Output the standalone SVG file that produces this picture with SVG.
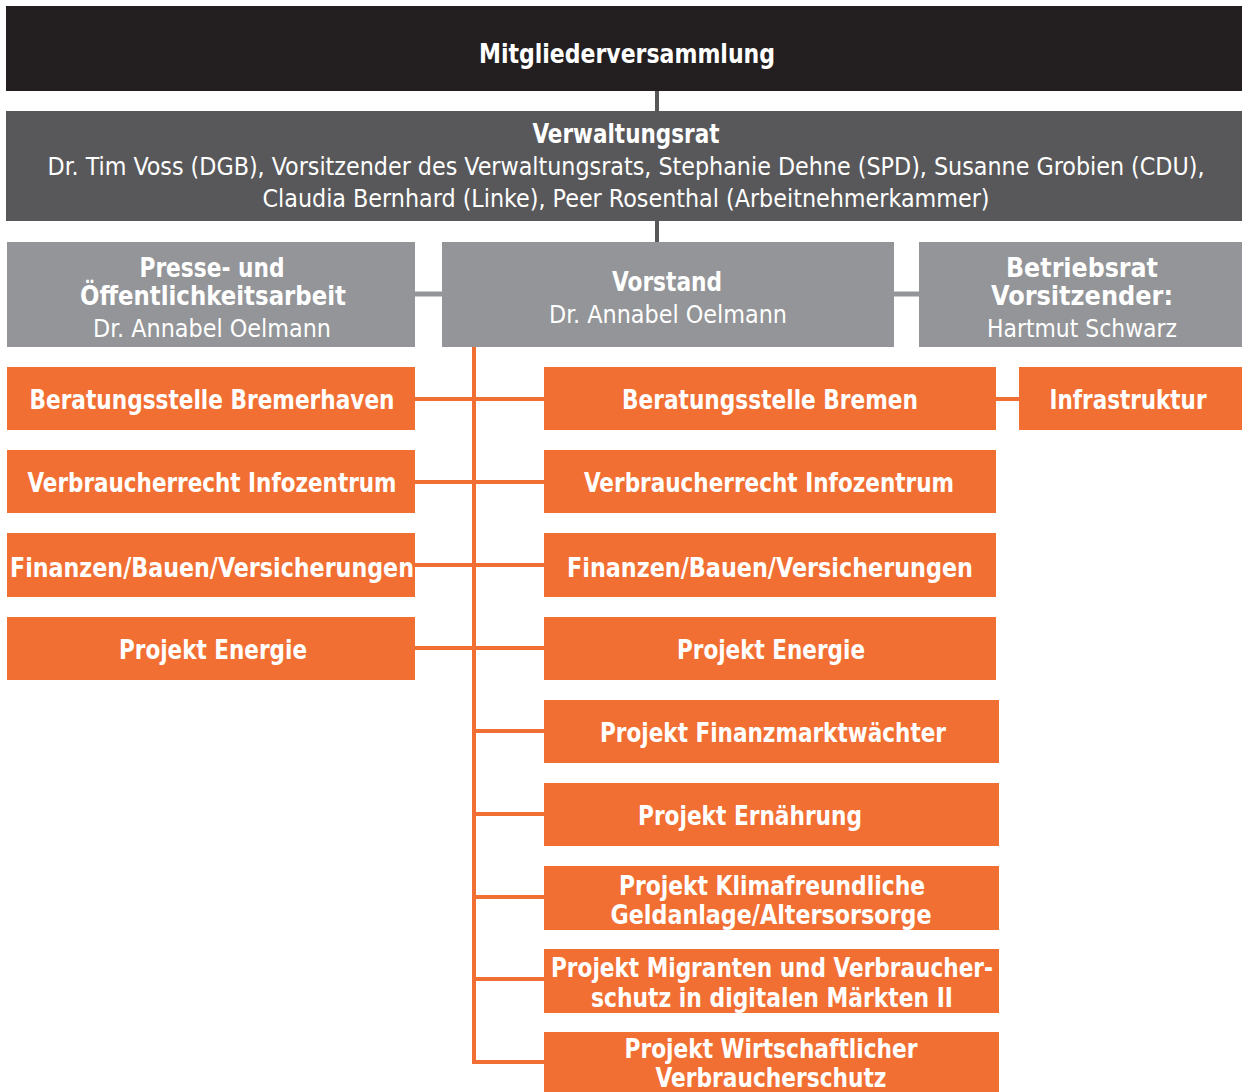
<svg xmlns="http://www.w3.org/2000/svg" width="1242" height="1092" viewBox="0 0 1242 1092">
<style>
text{font-family:"DejaVu Sans Condensed","Liberation Sans",sans-serif;fill:#fff;text-anchor:middle}
.b{font-weight:bold;font-size:26px}
.r{font-size:24px}
.o{fill:#f26f33}
.g{fill:#939598}
.cg{stroke:#939598;stroke-width:5;fill:none}
.cd{stroke:#58585a;stroke-width:4;fill:none}
.co{stroke:#f26f33;stroke-width:4;fill:none}
</style>
<rect width="1242" height="1092" fill="#fff"/>
<g id="connectors">
<line class="cd" x1="657" y1="90" x2="657" y2="112"/>
<line class="cd" x1="657" y1="220" x2="657" y2="243"/>
<line class="cg" x1="414" y1="294" x2="443" y2="294"/>
<line class="cg" x1="893" y1="294" x2="920" y2="294"/>
<polyline class="co" points="474,347 474,1062 545,1062"/>
<line class="co" x1="414" y1="399" x2="545" y2="399"/>
<line class="co" x1="414" y1="482" x2="545" y2="482"/>
<line class="co" x1="414" y1="565" x2="545" y2="565"/>
<line class="co" x1="414" y1="648" x2="545" y2="648"/>
<line class="co" x1="474" y1="731" x2="545" y2="731"/>
<line class="co" x1="474" y1="814" x2="545" y2="814"/>
<line class="co" x1="474" y1="897" x2="545" y2="897"/>
<line class="co" x1="474" y1="979" x2="545" y2="979"/>
<line class="co" x1="995" y1="399" x2="1020" y2="399"/>
</g>
<g id="mitgliederversammlung"><rect x="6" y="6" width="1236" height="85" fill="#231f20"/><text class="b" x="627" y="63" textLength="296" lengthAdjust="spacingAndGlyphs">Mitgliederversammlung</text></g>
<g id="verwaltungsrat"><rect x="6" y="111" width="1236" height="110" fill="#58585a"/>
<text class="b" x="626" y="143" textLength="187" lengthAdjust="spacingAndGlyphs">Verwaltungsrat</text>
<text class="r" x="626" y="175" textLength="1157" lengthAdjust="spacingAndGlyphs">Dr. Tim Voss (DGB), Vorsitzender des Verwaltungsrats, Stephanie Dehne (SPD), Susanne Grobien (CDU),</text>
<text class="r" x="626" y="207" textLength="727" lengthAdjust="spacingAndGlyphs">Claudia Bernhard (Linke), Peer Rosenthal (Arbeitnehmerkammer)</text></g>
<g id="presse"><rect class="g" x="7" y="242" width="408" height="105"/>
<text class="b" x="212" y="277" textLength="145" lengthAdjust="spacingAndGlyphs">Presse- und</text><text class="b" x="213" y="305" textLength="266" lengthAdjust="spacingAndGlyphs">Öffentlichkeitsarbeit</text><text class="r" x="212" y="337" textLength="238" lengthAdjust="spacingAndGlyphs">Dr. Annabel Oelmann</text></g>
<g id="vorstand"><rect class="g" x="442" y="242" width="452" height="105"/>
<text class="b" x="667" y="291" textLength="110" lengthAdjust="spacingAndGlyphs">Vorstand</text><text class="r" x="668" y="323" textLength="238" lengthAdjust="spacingAndGlyphs">Dr. Annabel Oelmann</text></g>
<g id="betriebsrat"><rect class="g" x="919" y="242" width="323" height="105"/>
<text class="b" x="1082" y="277" textLength="152" lengthAdjust="spacingAndGlyphs">Betriebsrat</text><text class="b" x="1082" y="305" textLength="182" lengthAdjust="spacingAndGlyphs">Vorsitzender:</text><text class="r" x="1082" y="337" textLength="190" lengthAdjust="spacingAndGlyphs">Hartmut Schwarz</text></g>
<g id="l1"><rect class="o" x="7" y="367" width="408" height="63"/><text class="b" x="212" y="409" textLength="365" lengthAdjust="spacingAndGlyphs">Beratungsstelle Bremerhaven</text></g>
<g id="l2"><rect class="o" x="7" y="450" width="408" height="63"/><text class="b" x="212" y="492" textLength="369" lengthAdjust="spacingAndGlyphs">Verbraucherrecht Infozentrum</text></g>
<g id="l3"><rect class="o" x="7" y="533" width="408" height="64"/><text class="b" x="212" y="577" textLength="404" lengthAdjust="spacingAndGlyphs">Finanzen/Bauen/Versicherungen</text></g>
<g id="l4"><rect class="o" x="7" y="617" width="408" height="63"/><text class="b" x="213" y="659" textLength="188" lengthAdjust="spacingAndGlyphs">Projekt Energie</text></g>
<g id="r1"><rect class="o" x="544" y="367" width="452" height="63"/><text class="b" x="770" y="409" textLength="296" lengthAdjust="spacingAndGlyphs">Beratungsstelle Bremen</text></g>
<g id="infrastruktur"><rect class="o" x="1019" y="367" width="223" height="63"/><text class="b" x="1128" y="409" textLength="157" lengthAdjust="spacingAndGlyphs">Infrastruktur</text></g>
<g id="r2"><rect class="o" x="544" y="450" width="452" height="63"/><text class="b" x="769" y="492" textLength="370" lengthAdjust="spacingAndGlyphs">Verbraucherrecht Infozentrum</text></g>
<g id="r3"><rect class="o" x="544" y="533" width="452" height="64"/><text class="b" x="770" y="577" textLength="406" lengthAdjust="spacingAndGlyphs">Finanzen/Bauen/Versicherungen</text></g>
<g id="r4"><rect class="o" x="544" y="617" width="452" height="63"/><text class="b" x="771" y="659" textLength="188" lengthAdjust="spacingAndGlyphs">Projekt Energie</text></g>
<g id="r5"><rect class="o" x="544" y="700" width="455" height="63"/><text class="b" x="773" y="742" textLength="346" lengthAdjust="spacingAndGlyphs">Projekt Finanzmarktwächter</text></g>
<g id="r6"><rect class="o" x="544" y="783" width="455" height="63"/><text class="b" x="750" y="825" textLength="224" lengthAdjust="spacingAndGlyphs">Projekt Ernährung</text></g>
<g id="r7"><rect class="o" x="544" y="866" width="455" height="64"/><text class="b" x="772" y="895" textLength="306" lengthAdjust="spacingAndGlyphs">Projekt Klimafreundliche</text><text class="b" x="771" y="924" textLength="321" lengthAdjust="spacingAndGlyphs">Geldanlage/Altersorsorge</text></g>
<g id="r8"><rect class="o" x="544" y="949" width="455" height="64"/><text class="b" x="772" y="977" textLength="442" lengthAdjust="spacingAndGlyphs">Projekt Migranten und Verbraucher-</text><text class="b" x="772" y="1007" textLength="362" lengthAdjust="spacingAndGlyphs">schutz in digitalen Märkten II</text></g>
<g id="r9"><rect class="o" x="544" y="1032" width="455" height="60"/><text class="b" x="771" y="1058" textLength="293" lengthAdjust="spacingAndGlyphs">Projekt Wirtschaftlicher</text><text class="b" x="771" y="1087" textLength="231" lengthAdjust="spacingAndGlyphs">Verbraucherschutz</text></g>
</svg>
